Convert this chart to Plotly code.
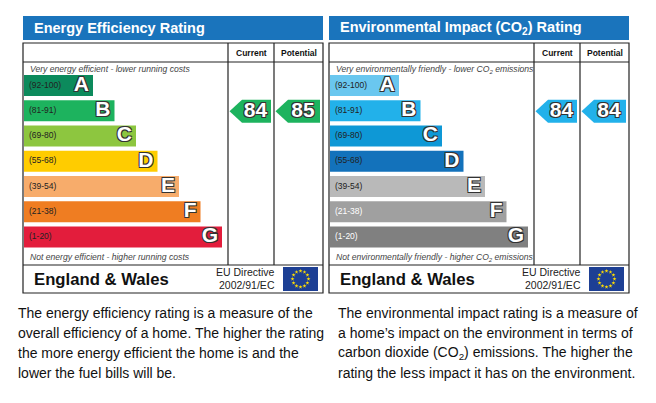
import numpy as np
import plotly.graph_objects as go

# rating bands
bands = ["A", "B", "C", "D", "E", "F", "G"]
band_ranges = ["(92-100)", "(81-91)", "(69-80)", "(55-68)", "(39-54)", "(21-38)", "(1-20)"]
band_low = [92, 81, 69, 55, 39, 21, 1]

ee_colors = ["#0c8a5c", "#1db35e", "#8dc63f", "#ffcc00", "#f7ac6b", "#ef7d22", "#e31d3c"]
ei_colors = ["#6ac7ef", "#22b1ea", "#0e98d6", "#1372bb", "#b9b9b9", "#a0a0a0", "#808080"]
ei_range_colors = ["#222", "#222", "#222", "#222", "#222", "#fff", "#fff"]

ee_current, ee_potential = 84, 85
ei_current, ei_potential = 84, 84

FONT = "Liberation Sans, Arial, sans-serif"
OUTLINE = "-1px -1px 0 #333, 1px -1px 0 #333, -1px 1px 0 #333, 1px 1px 0 #333"

fig = go.Figure()
shapes = []
annotations = []


def band_index(rating):
    for i, low in enumerate(band_low):
        if rating >= low:
            return i
    return len(band_low) - 1


def panel(x0, title, colors, range_colors, current, potential, top_txt, bottom_txt):
    # x0 = left edge of panel, panel is 300 wide
    right = x0 + 300
    col1, col2 = x0 + 205, x0 + 251
    row_y = [85.5 + 25.25 * i for i in range(7)]
    lengths = [69 + 21.5 * i for i in range(7)]

    shapes.append(dict(type="rect", x0=x0, x1=right, y0=16, y1=40,
                       fillcolor="#1a74bc", line_width=0, layer="below"))
    shapes.append(dict(type="rect", x0=x0, x1=right, y0=43, y1=293,
                       line=dict(color="#222", width=1.2)))
    shapes.append(dict(type="line", x0=x0, x1=right, y0=62, y1=62, line=dict(color="#222", width=1.2)))
    shapes.append(dict(type="line", x0=x0, x1=right, y0=265, y1=265, line=dict(color="#222", width=1.2)))
    for cx in (col1, col2):
        shapes.append(dict(type="line", x0=cx, x1=cx, y0=43, y1=265, line=dict(color="#222", width=1.2)))

    annotations.append(dict(x=x0 + 9, y=28, text=title, showarrow=False, xanchor="left",
                            font=dict(family=FONT, size=14.5, color="white", weight="bold")))
    for cx0, cx1, lab in ((col1, col2, "Current"), (col2, right, "Potential")):
        annotations.append(dict(x=(cx0 + cx1) / 2, y=53, text=lab, showarrow=False,
                                font=dict(family=FONT, size=8.5, color="#111", weight="bold")))
    annotations.append(dict(x=x0 + 5, y=69, text="<i>" + top_txt + "</i>", showarrow=False,
                            xanchor="left", font=dict(family=FONT, size=8.6, color="#444")))
    annotations.append(dict(x=x0 + 5, y=257, text="<i>" + bottom_txt + "</i>", showarrow=False,
                            xanchor="left", font=dict(family=FONT, size=8.6, color="#444")))

    fig.add_trace(go.Bar(orientation="h", y=row_y, x=lengths, base=x0 + 1, width=21,
                         marker=dict(color=colors, line_width=0), hoverinfo="skip"))
    fig.add_trace(go.Scatter(x=[x0 + 6] * 7, y=row_y, mode="text", text=band_ranges,
                             textposition="middle right", hoverinfo="skip",
                             textfont=dict(family=FONT, size=8.5, color=range_colors)))
    fig.add_trace(go.Scatter(x=[x0 + 1 + l - 4 for l in lengths], y=row_y, mode="text", text=bands,
                             textposition="middle left", hoverinfo="skip",
                             textfont=dict(family=FONT, size=21, color="white", weight="bold",
                                           shadow=OUTLINE)))

    # pointer arrows
    for cx0, cx1, val in ((col1, col2, current), (col2, right, potential)):
        i = band_index(val)
        yc = row_y[i] + 0.5
        tip, body, end = cx0 + 1.5, cx0 + 14, cx1 - 3
        fig.add_trace(go.Scatter(x=[tip, body, end, end, body, tip],
                                 y=[yc, yc - 11.5, yc - 11.5, yc + 11.5, yc + 11.5, yc],
                                 fill="toself", fillcolor=colors[i], mode="lines",
                                 line=dict(width=0, color=colors[i]), hoverinfo="skip"))
        fig.add_trace(go.Scatter(x=[(body + end) / 2 - 1], y=[yc], mode="text", text=[str(val)],
                                 textposition="middle center", hoverinfo="skip",
                                 textfont=dict(family=FONT, size=21, color="white", weight="bold",
                                               shadow=OUTLINE)))

    # footer
    annotations.append(dict(x=x0 + 9, y=279, text="England & Wales", showarrow=False, xanchor="left",
                            font=dict(family=FONT, size=16.7, color="#111", weight="bold")))
    annotations.append(dict(x=x0 + 254, y=272, text="EU Directive", showarrow=False, xanchor="right",
                            font=dict(family=FONT, size=10.5, color="#222")))
    annotations.append(dict(x=x0 + 254, y=285, text="2002/91/EC", showarrow=False, xanchor="right",
                            font=dict(family=FONT, size=10.5, color="#222")))
    fx, fy = x0 + 277.5, 279
    shapes.append(dict(type="rect", x0=fx - 17.5, x1=fx + 17.5, y0=267, y1=291,
                       fillcolor="#1d3f94", line_width=0, layer="below"))
    ang = np.arange(12) * np.pi / 6
    fig.add_trace(go.Scatter(x=fx + 8 * np.cos(ang), y=fy + 8 * np.sin(ang), mode="markers",
                             marker=dict(symbol="star", size=3, color="#ffdd00", line_width=0),
                             hoverinfo="skip"))


panel(23, "Energy Efficiency Rating", ee_colors, ["#222"] * 7, ee_current, ee_potential,
      "Very energy efficient - lower running costs",
      "Not energy efficient - higher running costs")
panel(329, "Environmental Impact (CO<sub>2</sub>) Rating", ei_colors, ei_range_colors,
      ei_current, ei_potential,
      "Very environmentally friendly - lower CO<sub>2</sub> emissions",
      "Not environmentally friendly - higher CO<sub>2</sub> emissions")

left_par = ["The energy efficiency rating is a measure of the",
            "overall efficiency of a home. The higher the rating",
            "the more energy efficient the home is and the",
            "lower the fuel bills will be."]
right_par = ["The environmental impact rating is a measure of",
             "a home\u2019s impact on the environment in terms of",
             "carbon dioxide (CO<sub>2</sub>) emissions. The higher the",
             "rating the less impact it has on the environment."]
for k, (lt, rt) in enumerate(zip(left_par, right_par)):
    y = 313 + 20 * k
    annotations.append(dict(x=16, y=y, text=lt, showarrow=False, xanchor="left",
                            font=dict(family=FONT, size=14, color="#111")))
    annotations.append(dict(x=336, y=y, text=rt, showarrow=False, xanchor="left",
                            font=dict(family=FONT, size=14, color="#111")))

# the page body has an 8px margin, so the plot area is shifted and the
# axis ranges are set so one data unit is one screen pixel
fig.update_layout(
    width=640, height=387,
    margin=dict(l=0, r=0, t=0, b=0, pad=0),
    paper_bgcolor="white", plot_bgcolor="white",
    showlegend=False, barmode="overlay",
    xaxis=dict(range=[8, 648], visible=False, fixedrange=True),
    yaxis=dict(range=[395, 8], visible=False, fixedrange=True),
    shapes=shapes, annotations=annotations,
)

fig.write_html("out.html")
